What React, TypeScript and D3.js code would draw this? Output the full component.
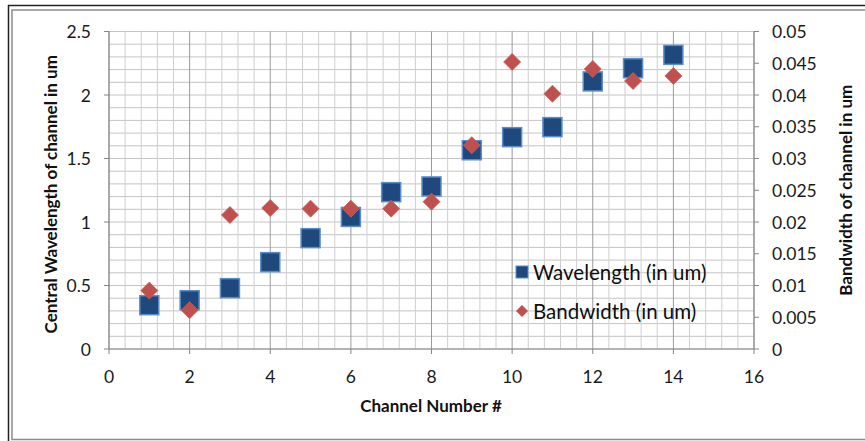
import React from "react";
import * as d3 from "d3";

// Channel measurements
const channels = [1, 2, 3, 4, 5, 6, 7, 8, 9, 10, 11, 12, 13, 14];
const wavelength = [0.345, 0.384, 0.479, 0.684, 0.873, 1.04, 1.235, 1.28, 1.565, 1.668, 1.747, 2.107, 2.211, 2.316];
const bandwidth = [0.0092, 0.0061, 0.0211, 0.0222, 0.0221, 0.0221, 0.0221, 0.0232, 0.0321, 0.0452, 0.0402, 0.0441, 0.0422, 0.043];

// Axis ticks
const xTicks = [0, 2, 4, 6, 8, 10, 12, 14, 16];
const yLeftTicks = [0, 0.5, 1, 1.5, 2, 2.5];
const yRightTicks = [0, 0.005, 0.01, 0.015, 0.02, 0.025, 0.03, 0.035, 0.04, 0.045, 0.05];

const W = 865;
const H = 441;
const FONT = "Lato, 'Open Sans', sans-serif";

export default function App() {
  const x = d3.scaleLinear().domain([0, 16]).range([109, 754]);
  const yL = d3.scaleLinear().domain([0, 2.5]).range([349, 31.5]);
  const yR = d3.scaleLinear().domain([0, 0.05]).range([349, 31.5]);

  const vMinor = d3.range(0, 16.001, 0.4);
  const hMinor = d3.range(0, 2.5001, 0.1);

  const sq = 19;
  const dia = 8.5;

  return (
    <svg
      width={W}
      height={H}
      style={{ position: "absolute", left: 0, top: 0, background: "#fff" }}
      fontFamily={FONT}
    >
      {/* frame */}
      <rect x={12} y={10} width={W} height={429.5} fill="none" stroke="#8c8c8c" strokeWidth={1.5} />
      <line x1={8.5} y1={5} x2={8.5} y2={H} stroke="#222" strokeWidth={1.5} />
      <line x1={8} y1={5.5} x2={W} y2={5.5} stroke="#222" strokeWidth={1.5} />

      {/* gridlines */}
      <g>
        {hMinor.map((v, i) => (
          <line key={"h" + i} x1={x(0)} x2={x(16)} y1={yL(v)} y2={yL(v)} stroke="#c4c4c4" strokeWidth={1} />
        ))}
        {vMinor.map((v, i) => {
          const major = Math.abs(v / 2 - Math.round(v / 2)) < 1e-6;
          return (
            <line
              key={"v" + i}
              x1={x(v)}
              x2={x(v)}
              y1={yL(0)}
              y2={yL(2.5)}
              stroke={major ? "#9a9a9a" : "#cfcfcf"}
              strokeWidth={1}
            />
          );
        })}
      </g>

      {/* axes */}
      <g stroke="#868686" strokeWidth={1}>
        <line x1={x(0)} x2={x(0)} y1={yL(0)} y2={yL(2.5)} />
        <line x1={x(16)} x2={x(16)} y1={yL(0)} y2={yL(2.5)} />
        <line x1={x(0)} x2={x(16)} y1={yL(0)} y2={yL(0)} />
        {yLeftTicks.map((t) => (
          <line key={"lt" + t} x1={x(0) - 5} x2={x(0)} y1={yL(t)} y2={yL(t)} />
        ))}
        {yRightTicks.map((t) => (
          <line key={"rt" + t} x1={x(16)} x2={x(16) + 5} y1={yR(t)} y2={yR(t)} />
        ))}
        {xTicks.map((t) => (
          <line key={"xt" + t} x1={x(t)} x2={x(t)} y1={yL(0)} y2={yL(0) + 5} />
        ))}
      </g>

      {/* tick labels */}
      <g fontSize={17.5} fill="#1a1a1a">
        {yLeftTicks.map((t) => (
          <text key={"ll" + t} x={91} y={yL(t)} textAnchor="end" dominantBaseline="central">
            {String(t)}
          </text>
        ))}
        {yRightTicks.map((t) => (
          <text key={"rl" + t} x={772} y={yR(t)} textAnchor="start" dominantBaseline="central">
            {String(t)}
          </text>
        ))}
        {xTicks.map((t) => (
          <text key={"xl" + t} x={x(t)} y={376} textAnchor="middle" dominantBaseline="central">
            {String(t)}
          </text>
        ))}
      </g>

      {/* axis titles */}
      <g fontSize={17} fontWeight="bold" fill="#111">
        <text x={431} y={405} textAnchor="middle" dominantBaseline="central">
          Channel Number #
        </text>
        <text
          transform={`translate(50,${yL(1.25) + 4}) rotate(-90)`}
          textAnchor="middle"
          dominantBaseline="central"
        >
          Central Wavelength of channel in um
        </text>
        <text
          transform={`translate(845,${yL(1.25)}) rotate(-90)`}
          textAnchor="middle"
          dominantBaseline="central"
        >
          Bandwidth of channel in um
        </text>
      </g>

      {/* wavelength markers */}
      <g>
        {channels.map((c, i) => (
          <rect
            key={"w" + c}
            x={x(c) - sq / 2}
            y={yL(wavelength[i]) - sq / 2}
            width={sq}
            height={sq}
            fill="#1f497d"
            stroke="#5b8dcc"
            strokeWidth={1.5}
          />
        ))}
      </g>

      {/* bandwidth markers */}
      <g>
        {channels.map((c, i) => {
          const cx = x(c);
          const cy = yR(bandwidth[i]);
          return (
            <path
              key={"b" + c}
              d={`M${cx},${cy - dia}L${cx + dia},${cy}L${cx},${cy + dia}L${cx - dia},${cy}Z`}
              fill="#c0504d"
              stroke="#c9605d"
              strokeWidth={0.8}
            />
          );
        })}
      </g>

      {/* legend */}
      <g fontSize={20.5} fill="#0d0d0d">
        <rect x={516} y={266} width={12} height={12} fill="#1f497d" stroke="#5b8dcc" strokeWidth={1} />
        <text x={533} y={272} dominantBaseline="central">
          Wavelength (in um)
        </text>
        <path d="M522,305L528,311L522,317L516,311Z" fill="#c0504d" />
        <text x={533} y={311} dominantBaseline="central">
          Bandwidth (in um)
        </text>
      </g>
    </svg>
  );
}
